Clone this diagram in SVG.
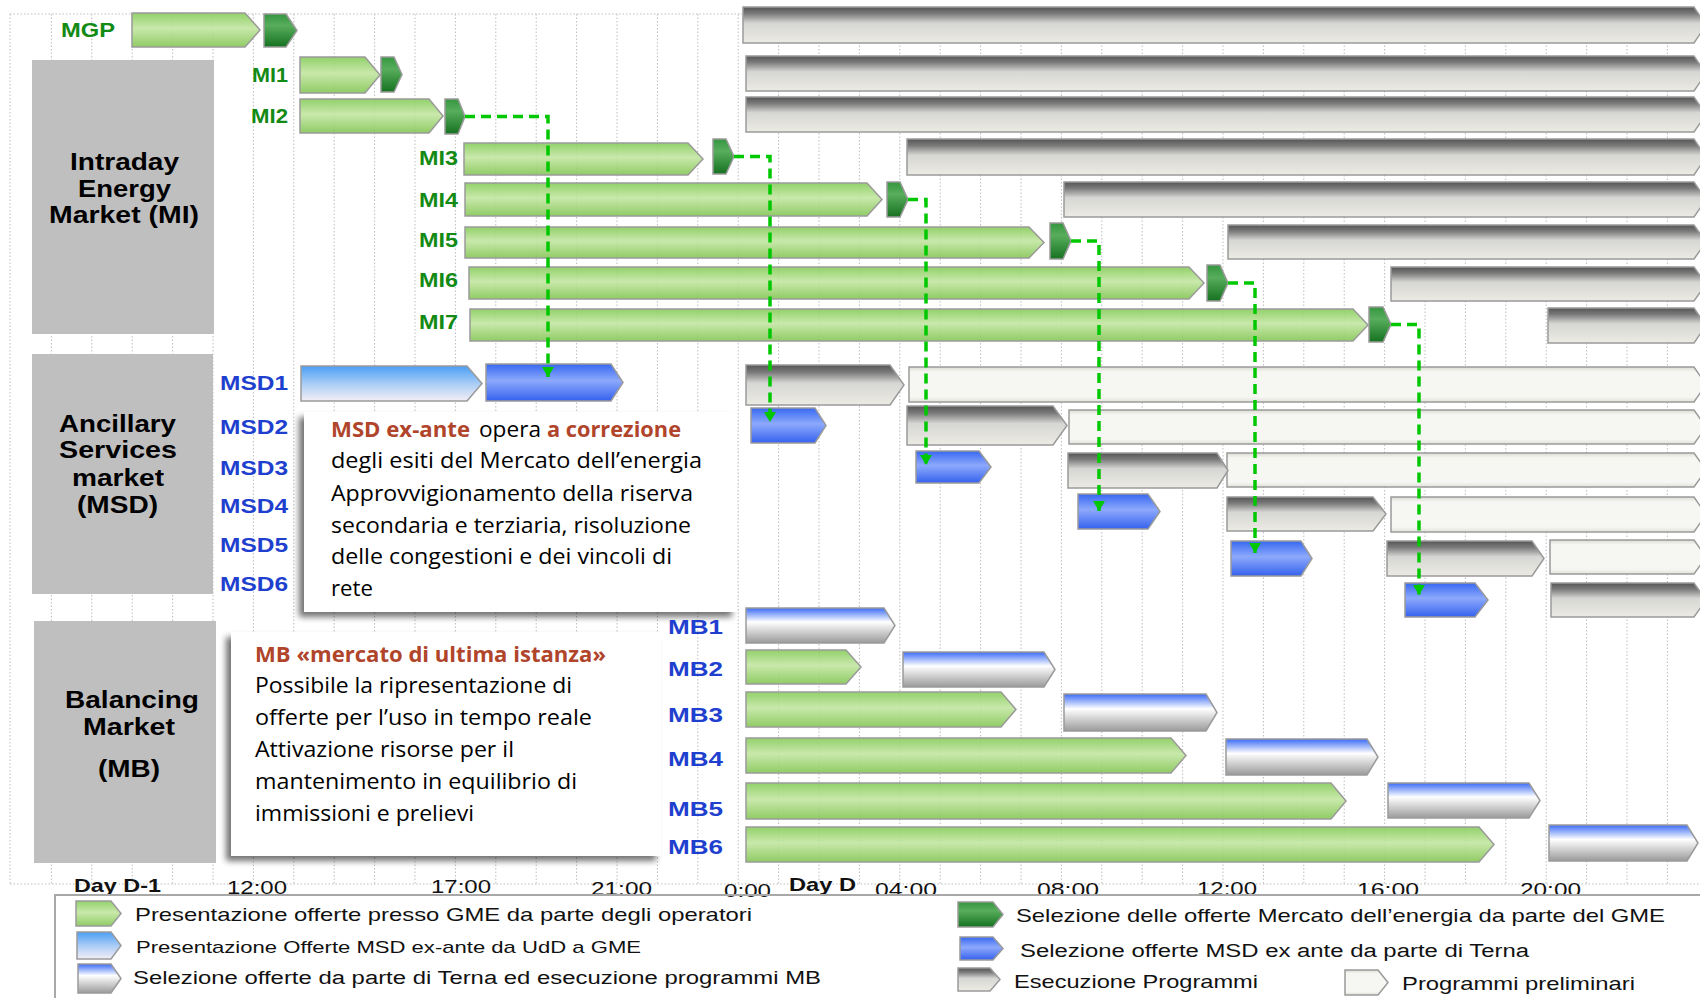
<svg xmlns="http://www.w3.org/2000/svg" width="1700" height="998" viewBox="0 0 1700 998">
<defs>
<linearGradient id="gGreen" x1="0" y1="0" x2="0" y2="1"><stop offset="0" stop-color="#86CC5A"/><stop offset="0.45" stop-color="#C3E6A2"/><stop offset="1" stop-color="#84C655"/></linearGradient>
<linearGradient id="gDark" x1="0" y1="0" x2="0" y2="1"><stop offset="0" stop-color="#35963F"/><stop offset="0.35" stop-color="#58AD5C"/><stop offset="1" stop-color="#157220"/></linearGradient>
<linearGradient id="gLight" x1="0" y1="0" x2="0" y2="1"><stop offset="0" stop-color="#4A9EF6"/><stop offset="0.5" stop-color="#A8CCF5"/><stop offset="1" stop-color="#F4EEF6"/></linearGradient>
<linearGradient id="gBlue" x1="0" y1="0" x2="0" y2="1"><stop offset="0" stop-color="#3768F2"/><stop offset="0.45" stop-color="#8DA9FC"/><stop offset="1" stop-color="#3562EE"/></linearGradient>
<linearGradient id="gMB" x1="0" y1="0" x2="0" y2="1"><stop offset="0" stop-color="#3A6BF5"/><stop offset="0.4" stop-color="#FFFFFF"/><stop offset="1" stop-color="#9A9A9A"/></linearGradient>
<linearGradient id="gExec" x1="0" y1="0" x2="0" y2="1"><stop offset="0" stop-color="#555555"/><stop offset="0.18" stop-color="#7A7A7A"/><stop offset="0.45" stop-color="#D6D6D4"/><stop offset="1" stop-color="#ECEBE3"/></linearGradient>
<linearGradient id="gPre" x1="0" y1="0" x2="0" y2="1"><stop offset="0" stop-color="#DCDCD4"/><stop offset="0.14" stop-color="#F6F6F2"/><stop offset="0.86" stop-color="#F6F6F2"/><stop offset="1" stop-color="#E2E2DA"/></linearGradient>
<filter id="shadow" x="-10%" y="-10%" width="120%" height="125%">
<feGaussianBlur in="SourceAlpha" stdDeviation="3"/>
<feOffset dx="-5" dy="5" result="b"/>
<feComponentTransfer><feFuncA type="linear" slope="0.55"/></feComponentTransfer>
<feMerge><feMergeNode/><feMergeNode in="SourceGraphic"/></feMerge>
</filter>
<marker id="ah" viewBox="0 0 10 12" refX="10" refY="6" markerWidth="10" markerHeight="12" markerUnits="userSpaceOnUse" orient="auto"><path d="M0 0L10 6L0 12Z" fill="#00C800"/></marker>
<style>
.bar{stroke:#9A9A9A;stroke-width:1.5}
.gr{fill:url(#gGreen);fill-opacity:0.9}
.dk{fill:url(#gDark)}
.lb{fill:url(#gLight)}
.bl{fill:url(#gBlue)}
.mb{fill:url(#gMB)}
.ex{fill:url(#gExec)}
.pr{fill:url(#gPre)}
.lg{font-family:"Liberation Sans",Arial,sans-serif;font-weight:bold;font-size:20px;fill:#138A13}
.lbl{font-family:"Liberation Sans",Arial,sans-serif;font-weight:bold;font-size:20px;fill:#1F3FCF}
.cat{font-family:"Liberation Sans",Arial,sans-serif;font-weight:bold;font-size:24px;fill:#000}
.catbox{fill:#BFBFBF}
.ax{font-family:"Liberation Sans",Arial,sans-serif;font-size:19px;fill:#111}
.axb{font-family:"Liberation Sans",Arial,sans-serif;font-size:19px;font-weight:bold;fill:#111}
.co{font-family:"Open Sans","Noto Sans",sans-serif;font-size:22px;fill:#000}
.cob{font-family:"Open Sans","Noto Sans",sans-serif;font-size:22px;font-weight:bold;fill:#B0452B}
.leg{font-family:"Liberation Sans",Arial,sans-serif;fill:#111}
.conn{fill:none;stroke:#00C800;stroke-width:3.5;stroke-dasharray:10 6;marker-end:url(#ah)}
</style>
</defs>
<rect width="1700" height="998" fill="#FFFFFF"/>
<g id="grid" fill="none" stroke="#BDBDBD" stroke-width="1" stroke-dasharray="1.5 2">
<path d="M10 14H1700M10 884H1700M10 14V884M51.4 14V884M91.8 14V884M132.2 14V884M172.6 14V884M213 14V884M253.4 14V884M293.8 14V884M334.2 14V884M374.6 14V884M415 14V884M455.4 14V884M495.8 14V884M536.2 14V884M576.6 14V884M617 14V884M657.4 14V884M697.8 14V884M738.2 14V884M778.6 14V884M819 14V884M859.4 14V884M899.8 14V884M940.2 14V884M980.6 14V884M1021 14V884M1061.4 14V884M1101.8 14V884M1142.2 14V884M1182.6 14V884M1223 14V884M1263.4 14V884M1303.8 14V884M1344.2 14V884M1384.6 14V884M1425 14V884M1465.4 14V884M1505.8 14V884M1546.2 14V884M1586.6 14V884M1627 14V884M1667.4 14V884"/>
</g>
<g id="cat-MI"><rect class="catbox" x="32" y="60" width="182" height="274"/>
<text class="cat" x="70" y="170" textLength="109" lengthAdjust="spacingAndGlyphs">Intraday</text>
<text class="cat" x="78" y="197" textLength="93" lengthAdjust="spacingAndGlyphs">Energy</text>
<text class="cat" x="49" y="223" textLength="150" lengthAdjust="spacingAndGlyphs">Market (MI)</text></g>
<g id="cat-MSD"><rect class="catbox" x="32" y="354" width="181" height="240"/>
<text class="cat" x="59" y="432" textLength="117" lengthAdjust="spacingAndGlyphs">Ancillary</text>
<text class="cat" x="59" y="458" textLength="118" lengthAdjust="spacingAndGlyphs">Services</text>
<text class="cat" x="72" y="486" textLength="92" lengthAdjust="spacingAndGlyphs">market</text>
<text class="cat" x="77" y="513" textLength="81" lengthAdjust="spacingAndGlyphs">(MSD)</text></g>
<g id="cat-MB"><rect class="catbox" x="34" y="621" width="182" height="242"/>
<text class="cat" x="65" y="708" textLength="134" lengthAdjust="spacingAndGlyphs">Balancing</text>
<text class="cat" x="83" y="735" textLength="92" lengthAdjust="spacingAndGlyphs">Market</text>
<text class="cat" x="98" y="777" textLength="62" lengthAdjust="spacingAndGlyphs">(MB)</text></g>
<g id="callout-MSD"><rect x="304" y="412" width="433" height="200" fill="#FFFFFF" filter="url(#shadow)"/>
<text class="cob" x="331" y="437" textLength="139" lengthAdjust="spacingAndGlyphs">MSD ex-ante</text>
<text class="co" x="479" y="437" textLength="62" lengthAdjust="spacingAndGlyphs">opera</text>
<text class="cob" x="547" y="437" textLength="134" lengthAdjust="spacingAndGlyphs">a correzione</text>
<text class="co" x="331" y="468" textLength="371" lengthAdjust="spacingAndGlyphs">degli esiti del Mercato dell’energia</text>
<text class="co" x="331" y="501" textLength="362" lengthAdjust="spacingAndGlyphs">Approvvigionamento della riserva</text>
<text class="co" x="331" y="533" textLength="360" lengthAdjust="spacingAndGlyphs">secondaria e terziaria, risoluzione</text>
<text class="co" x="331" y="564" textLength="341" lengthAdjust="spacingAndGlyphs">delle congestioni e dei vincoli di</text>
<text class="co" x="331" y="596" textLength="42" lengthAdjust="spacingAndGlyphs">rete</text></g>
<g id="callout-MB"><rect x="231" y="632" width="430" height="224" fill="#FFFFFF" filter="url(#shadow)"/>
<text class="cob" x="255" y="662" textLength="351" lengthAdjust="spacingAndGlyphs">MB «mercato di ultima istanza»</text>
<text class="co" x="255" y="693" textLength="317" lengthAdjust="spacingAndGlyphs">Possibile la ripresentazione di</text>
<text class="co" x="255" y="725" textLength="337" lengthAdjust="spacingAndGlyphs">offerte per l’uso in tempo reale</text>
<text class="co" x="255" y="757" textLength="259" lengthAdjust="spacingAndGlyphs">Attivazione risorse per il</text>
<text class="co" x="255" y="789" textLength="322" lengthAdjust="spacingAndGlyphs">mantenimento in equilibrio di</text>
<text class="co" x="255" y="821" textLength="219" lengthAdjust="spacingAndGlyphs">immissioni e prelievi</text></g>
<g id="row-MGP"><text class="lg" x="61" y="37" textLength="54" lengthAdjust="spacingAndGlyphs">MGP</text>
<path class="bar gr" d="M132 13H245L260 30L245 47H132Z"/>
<path class="bar dk" d="M264 14H286L297 30.5L286 47H264Z"/>
<path class="bar ex" d="M743 7H1694L1706 25L1694 43H743Z"/></g>
<g id="row-MI1"><text class="lg" x="252" y="82" textLength="36" lengthAdjust="spacingAndGlyphs">MI1</text>
<path class="bar gr" d="M300 57H365L380 75L365 93H300Z"/>
<path class="bar dk" d="M381 57H394L402 74.5L394 92H381Z"/>
<path class="bar ex" d="M746 56H1694L1706 73.5L1694 91H746Z"/></g>
<g id="row-MI2"><text class="lg" x="251" y="123" textLength="37" lengthAdjust="spacingAndGlyphs">MI2</text>
<path class="bar gr" d="M300 99H429L443 116L429 133H300Z"/>
<path class="bar dk" d="M445 99H458L465 116.5L458 134H445Z"/>
<path class="bar ex" d="M746 97H1694L1706 114.5L1694 132H746Z"/></g>
<g id="row-MI3"><text class="lg" x="419" y="165" textLength="39" lengthAdjust="spacingAndGlyphs">MI3</text>
<path class="bar gr" d="M464 143H688L703 159L688 175H464Z"/>
<path class="bar dk" d="M713 139H726L734 156.5L726 174H713Z"/>
<path class="bar ex" d="M907 139H1694L1706 157L1694 175H907Z"/></g>
<g id="row-MI4"><text class="lg" x="419" y="207" textLength="39" lengthAdjust="spacingAndGlyphs">MI4</text>
<path class="bar gr" d="M465 183H867L882 199.5L867 216H465Z"/>
<path class="bar dk" d="M887 182H900L908 199.5L900 217H887Z"/>
<path class="bar ex" d="M1064 182H1694L1706 199.5L1694 217H1064Z"/></g>
<g id="row-MI5"><text class="lg" x="419" y="247" textLength="39" lengthAdjust="spacingAndGlyphs">MI5</text>
<path class="bar gr" d="M465 227H1029L1044 242.5L1029 258H465Z"/>
<path class="bar dk" d="M1050 223H1063L1071 241L1063 259H1050Z"/>
<path class="bar ex" d="M1228 225H1694L1706 242L1694 259H1228Z"/></g>
<g id="row-MI6"><text class="lg" x="419" y="287" textLength="39" lengthAdjust="spacingAndGlyphs">MI6</text>
<path class="bar gr" d="M469 267H1189L1204 283L1189 299H469Z"/>
<path class="bar dk" d="M1207 265H1220L1228 283L1220 301H1207Z"/>
<path class="bar ex" d="M1391 267H1694L1706 284L1694 301H1391Z"/></g>
<g id="row-MI7"><text class="lg" x="419" y="329" textLength="39" lengthAdjust="spacingAndGlyphs">MI7</text>
<path class="bar gr" d="M470 309H1353L1368 325L1353 341H470Z"/>
<path class="bar dk" d="M1369 307H1383L1391 324.5L1383 342H1369Z"/>
<path class="bar ex" d="M1548 308H1694L1706 325.5L1694 343H1548Z"/></g>
<g id="row-MSD1"><text class="lbl" x="220" y="390" textLength="68" lengthAdjust="spacingAndGlyphs">MSD1</text>
<path class="bar lb" d="M301 366H467L482 383.5L467 401H301Z"/>
<path class="bar bl" d="M486 364H611L623 382.5L611 401H486Z"/>
<path class="bar pr" d="M909 367H1694L1706 384.5L1694 402H909Z"/>
<path class="bar ex" d="M746 365H890L904 385L890 405H746Z"/></g>
<g id="row-MSD2"><text class="lbl" x="220" y="434" textLength="68" lengthAdjust="spacingAndGlyphs">MSD2</text>
<path class="bar bl" d="M751 408H815L826 425.5L815 443H751Z"/>
<path class="bar pr" d="M1069 410H1694L1706 427L1694 444H1069Z"/>
<path class="bar ex" d="M907 406H1053L1067 425.5L1053 445H907Z"/></g>
<g id="row-MSD3"><text class="lbl" x="220" y="475" textLength="68" lengthAdjust="spacingAndGlyphs">MSD3</text>
<path class="bar bl" d="M916 451H979L991 467L979 483H916Z"/>
<path class="bar pr" d="M1227 453H1694L1706 470L1694 487H1227Z"/>
<path class="bar ex" d="M1068 453H1217L1228 470.5L1217 488H1068Z"/></g>
<g id="row-MSD4"><text class="lbl" x="220" y="513" textLength="68" lengthAdjust="spacingAndGlyphs">MSD4</text>
<path class="bar bl" d="M1078 494H1148L1160 511.5L1148 529H1078Z"/>
<path class="bar pr" d="M1391 497H1694L1706 514.5L1694 532H1391Z"/>
<path class="bar ex" d="M1227 497H1373L1386 514L1373 531H1227Z"/></g>
<g id="row-MSD5"><text class="lbl" x="220" y="552" textLength="68" lengthAdjust="spacingAndGlyphs">MSD5</text>
<path class="bar bl" d="M1231 541H1301L1312 558.5L1301 576H1231Z"/>
<path class="bar pr" d="M1550 540H1694L1706 557L1694 574H1550Z"/>
<path class="bar ex" d="M1387 541H1532L1544 558.5L1532 576H1387Z"/></g>
<g id="row-MSD6"><text class="lbl" x="220" y="591" textLength="68" lengthAdjust="spacingAndGlyphs">MSD6</text>
<path class="bar bl" d="M1405 583H1475L1488 600L1475 617H1405Z"/>
<path class="bar ex" d="M1551 583H1694L1706 600L1694 617H1551Z"/></g>
<g id="row-MB1"><text class="lbl" x="668" y="634" textLength="55" lengthAdjust="spacingAndGlyphs">MB1</text>
<path class="bar mb" d="M746 608H884L895 625.5L884 643H746Z"/></g>
<g id="row-MB2"><text class="lbl" x="668" y="676" textLength="55" lengthAdjust="spacingAndGlyphs">MB2</text>
<path class="bar gr" d="M746 650H846L861 667L846 684H746Z"/>
<path class="bar mb" d="M903 652H1044L1055 669.5L1044 687H903Z"/></g>
<g id="row-MB3"><text class="lbl" x="668" y="722" textLength="55" lengthAdjust="spacingAndGlyphs">MB3</text>
<path class="bar gr" d="M746 692H1001L1016 709.5L1001 727H746Z"/>
<path class="bar mb" d="M1064 694H1206L1217 712.5L1206 731H1064Z"/></g>
<g id="row-MB4"><text class="lbl" x="668" y="766" textLength="55" lengthAdjust="spacingAndGlyphs">MB4</text>
<path class="bar gr" d="M746 738H1171L1186 755.5L1171 773H746Z"/>
<path class="bar mb" d="M1226 739H1367L1378 757L1367 775H1226Z"/></g>
<g id="row-MB5"><text class="lbl" x="668" y="816" textLength="55" lengthAdjust="spacingAndGlyphs">MB5</text>
<path class="bar gr" d="M746 783H1331L1346 801L1331 819H746Z"/>
<path class="bar mb" d="M1388 783H1529L1540 800.5L1529 818H1388Z"/></g>
<g id="row-MB6"><text class="lbl" x="668" y="854" textLength="55" lengthAdjust="spacingAndGlyphs">MB6</text>
<path class="bar gr" d="M746 827H1479L1494 844.5L1479 862H746Z"/>
<path class="bar mb" d="M1549 825H1687L1698 843L1687 861H1549Z"/></g>
<g id="connectors">
<path class="conn" d="M465 116.5H548V377"/>
<path class="conn" d="M734 156.5H770V422"/>
<path class="conn" d="M908 199.5H926V465"/>
<path class="conn" d="M1071 241H1099V511"/>
<path class="conn" d="M1228 283H1255V553"/>
<path class="conn" d="M1391 324.5H1419V595"/>
</g>
<g id="axis">
<text class="axb" x="74" y="892" textLength="87" lengthAdjust="spacingAndGlyphs">Day D-1</text>
<text class="ax" x="227" y="894" textLength="60" lengthAdjust="spacingAndGlyphs">12:00</text>
<text class="ax" x="431" y="893" textLength="60" lengthAdjust="spacingAndGlyphs">17:00</text>
<text class="ax" x="591" y="895" textLength="61" lengthAdjust="spacingAndGlyphs">21:00</text>
<text class="ax" x="724" y="897" textLength="47" lengthAdjust="spacingAndGlyphs">0:00</text>
<text class="axb" x="789" y="891" textLength="67" lengthAdjust="spacingAndGlyphs">Day D</text>
<text class="ax" x="875" y="896" textLength="62" lengthAdjust="spacingAndGlyphs">04:00</text>
<text class="ax" x="1037" y="896" textLength="62" lengthAdjust="spacingAndGlyphs">08:00</text>
<text class="ax" x="1197" y="895" textLength="60" lengthAdjust="spacingAndGlyphs">12:00</text>
<text class="ax" x="1357" y="896" textLength="62" lengthAdjust="spacingAndGlyphs">16:00</text>
<text class="ax" x="1520" y="896" textLength="61" lengthAdjust="spacingAndGlyphs">20:00</text>
</g>
<g id="legend">
<path d="M55 998V895H1700" fill="none" stroke="#A8A8A8" stroke-width="2"/>
<path class="bar gr" d="M76 901H111L121 913.5L111 926H76Z"/>
<path class="bar lb" d="M77 932H111L121 945.5L111 959H77Z"/>
<path class="bar mb" d="M78 964H111L121 978.5L111 993H78Z"/>
<path class="bar dk" d="M958 902H993L1003 914.5L993 927H958Z"/>
<path class="bar bl" d="M960 937H993L1003 948.5L993 960H960Z"/>
<path class="bar ex" d="M958 968H990L1000 979.5L990 991H958Z"/>
<path class="bar pr" d="M1345 970H1378L1388 982.5L1378 995H1345Z"/>
<text class="leg" x="135" y="921" font-size="19" textLength="617" lengthAdjust="spacingAndGlyphs">Presentazione offerte presso GME da parte degli operatori</text>
<text class="leg" x="136" y="953" font-size="17" textLength="505" lengthAdjust="spacingAndGlyphs">Presentazione Offerte MSD ex-ante da UdD a GME</text>
<text class="leg" x="133" y="984" font-size="18" textLength="688" lengthAdjust="spacingAndGlyphs">Selezione offerte da parte di Terna ed esecuzione programmi MB</text>
<text class="leg" x="1016" y="922" font-size="18.5" textLength="649" lengthAdjust="spacingAndGlyphs">Selezione delle offerte Mercato dell’energia da parte del GME</text>
<text class="leg" x="1020" y="957" font-size="18" textLength="509" lengthAdjust="spacingAndGlyphs">Selezione offerte MSD ex ante da parte di Terna</text>
<text class="leg" x="1014" y="988" font-size="18.5" textLength="244" lengthAdjust="spacingAndGlyphs">Esecuzione Programmi</text>
<text class="leg" x="1402" y="990" font-size="18.5" textLength="233" lengthAdjust="spacingAndGlyphs">Programmi preliminari</text>
</g>
</svg>
